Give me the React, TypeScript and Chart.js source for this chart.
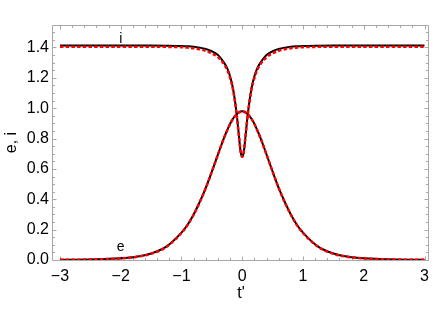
import React, { useEffect, useRef } from "react";
import { Chart, registerables } from "chart.js";

Chart.register(...registerables);

// t' sample positions
const tValues = [
  -3, -2.75, -2.5, -2.25, -2, -1.75, -1.5, -1.25, -1, -0.9, -0.8, -0.7, -0.6, -0.5, -0.4, -0.3, -0.25, -0.2, -0.15, -0.1,
  -0.075, -0.05, -0.025, 0, 0.025, 0.05, 0.075, 0.1, 0.15, 0.2, 0.25, 0.3, 0.4, 0.5, 0.6, 0.7, 0.8, 0.9, 1, 1.25, 1.5,
  1.75, 2, 2.25, 2.5, 2.75, 3,
];

// e (black, solid)
const eBlack = [
  0.001, 0.002, 0.004, 0.007, 0.011, 0.021, 0.043, 0.088, 0.18, 0.232, 0.3, 0.382, 0.475, 0.583, 0.695, 0.805, 0.853,
  0.897, 0.932, 0.958, 0.967, 0.974, 0.978, 0.98, 0.978, 0.974, 0.967, 0.958, 0.932, 0.897, 0.853, 0.805, 0.695, 0.583,
  0.475, 0.382, 0.3, 0.232, 0.18, 0.088, 0.043, 0.021, 0.011, 0.007, 0.004, 0.002, 0.001,
];

// e (red, dashed)
const eRed = [
  0.001, 0.002, 0.003, 0.006, 0.01, 0.02, 0.041, 0.086, 0.178, 0.23, 0.298, 0.38, 0.474, 0.582, 0.694, 0.804, 0.852,
  0.896, 0.931, 0.957, 0.966, 0.973, 0.977, 0.979, 0.977, 0.973, 0.966, 0.957, 0.931, 0.896, 0.852, 0.804, 0.694, 0.582,
  0.474, 0.38, 0.298, 0.23, 0.178, 0.086, 0.041, 0.02, 0.01, 0.006, 0.003, 0.002, 0.001,
];

// i (black, solid)
const iBlack = [
  1.413, 1.413, 1.413, 1.413, 1.413, 1.413, 1.413, 1.412, 1.41, 1.408, 1.405, 1.399, 1.39, 1.375, 1.35, 1.3, 1.265, 1.21,
  1.125, 0.99, 0.9, 0.8, 0.71, 0.68, 0.71, 0.8, 0.9, 0.99, 1.125, 1.21, 1.265, 1.3, 1.35, 1.375, 1.39, 1.399, 1.405,
  1.408, 1.41, 1.412, 1.413, 1.413, 1.413, 1.413, 1.413, 1.413, 1.413,
];

// i (red, dashed)
const iRed = [
  1.405, 1.405, 1.405, 1.405, 1.405, 1.405, 1.405, 1.404, 1.402, 1.399, 1.395, 1.388, 1.378, 1.362, 1.336, 1.29, 1.255,
  1.2, 1.118, 0.985, 0.898, 0.8, 0.71, 0.68, 0.71, 0.8, 0.898, 0.985, 1.118, 1.2, 1.255, 1.29, 1.336, 1.362, 1.378,
  1.388, 1.395, 1.399, 1.402, 1.404, 1.405, 1.405, 1.405, 1.405, 1.405, 1.405, 1.405,
];

const xTickValues = [-3, -2, -1, 0, 1, 2, 3];
const yTickValues = [0, 0.2, 0.4, 0.6, 0.8, 1.0, 1.2, 1.4];

// in-plot curve labels
const curveLabelTexts = ["i", "e"];
const curveLabelT = [-2, -2];
const curveLabelV = [1.43, 0.056];

const FONT = "'Liberation Sans', Arial, sans-serif";

const framePlugin = {
  id: "frameTicks",
  beforeDatasetsDraw(chart: any) {
    const { ctx, chartArea, scales } = chart;
    const { left, right, top, bottom } = chartArea;
    const xs = scales.x;
    const ys = scales.y;
    const L = Math.floor(left) + 0.5;
    const R = Math.floor(right) - 0.5;
    const T = Math.floor(top) + 0.5;
    const B = Math.floor(bottom) + 0.5;
    ctx.save();
    ctx.strokeStyle = "#a8a8a8";
    ctx.lineWidth = 1;
    ctx.beginPath();
    ctx.moveTo(L, T);
    ctx.lineTo(R, T);
    ctx.lineTo(R, B);
    ctx.lineTo(L, B);
    ctx.closePath();
    ctx.stroke();

    const majorLen = 4;
    const minorLen = 2.5;
    ctx.beginPath();
    for (let k = -16; k <= 16; k++) {
      const v = k * 0.2;
      if (v < xs.min || v > xs.max) continue;
      const isMajor = k % 5 === 0;
      const len = isMajor ? majorLen : minorLen;
      const px = Math.round(xs.getPixelForValue(v)) + 0.5;
      ctx.moveTo(px, B);
      ctx.lineTo(px, B - len);
      ctx.moveTo(px, T);
      ctx.lineTo(px, T + len);
    }
    for (let k = 0; k <= 31; k++) {
      const v = k * 0.05;
      if (v < ys.min || v > ys.max) continue;
      const isMajor = k % 4 === 0;
      const len = isMajor ? majorLen : minorLen;
      const py = Math.round(ys.getPixelForValue(v)) + 0.5;
      ctx.moveTo(L, py);
      ctx.lineTo(L + len, py);
      ctx.moveTo(R, py);
      ctx.lineTo(R - len, py);
    }
    ctx.stroke();
    ctx.restore();
  },
  afterDatasetsDraw(chart: any) {
    const { ctx, scales } = chart;
    ctx.save();
    ctx.fillStyle = "#000";
    ctx.font = `14px ${FONT}`;
    ctx.textAlign = "center";
    ctx.textBaseline = "alphabetic";
    curveLabelTexts.forEach((txt, idx) => {
      const px = scales.x.getPixelForValue(curveLabelT[idx]);
      const py = scales.y.getPixelForValue(curveLabelV[idx]);
      ctx.fillText(txt, px, py);
    });
    ctx.restore();
  },
};

export default function App() {
  const canvasRef = useRef<HTMLCanvasElement | null>(null);

  useEffect(() => {
    document.body.style.margin = "0";
    const canvas = canvasRef.current;
    if (!canvas) return;

    const mk = (vals: number[]) => tValues.map((t, idx) => ({ x: t, y: vals[idx] }));

    const chart = new Chart(canvas, {
      type: "line",
      data: {
        datasets: [
          {
            label: "i red",
            data: mk(iRed),
            borderColor: "#ff0000",
            borderWidth: 2.5,
            borderDash: [3.5, 2.2],
            pointRadius: 0,
            cubicInterpolationMode: "monotone",
            fill: false,
            order: 0,
          },
          {
            label: "e red",
            data: mk(eRed),
            borderColor: "#ff0000",
            borderWidth: 2.5,
            borderDash: [3.5, 2.2],
            pointRadius: 0,
            cubicInterpolationMode: "monotone",
            fill: false,
            order: 0,
          },
          {
            label: "i black",
            data: mk(iBlack),
            borderColor: "#000000",
            borderWidth: 2,
            pointRadius: 0,
            cubicInterpolationMode: "monotone",
            fill: false,
            order: 1,
          },
          {
            label: "e black",
            data: mk(eBlack),
            borderColor: "#000000",
            borderWidth: 2,
            pointRadius: 0,
            cubicInterpolationMode: "monotone",
            fill: false,
            order: 1,
          },
        ],
      },
      options: {
        responsive: false,
        animation: false,
        devicePixelRatio: 1,
        layout: { padding: { top: 25, right: 3, left: 0, bottom: 0 } },
        plugins: { legend: { display: false }, tooltip: { enabled: false } },
        scales: {
          x: {
            type: "linear",
            min: -3.131,
            max: 3.09,
            grid: { display: false, drawTicks: false },
            border: { display: false },
            afterBuildTicks: (scale: any) => {
              scale.ticks = xTickValues.map((v) => ({ value: v }));
            },
            afterFit: (scale: any) => {
              scale.height = 51;
            },
            ticks: {
              autoSkip: false,
              maxRotation: 0,
              padding: 7,
              color: "#000",
              font: { family: FONT, size: 16 },
              callback: (v: any) => (Number(v) < 0 ? "\u2212" + Math.abs(Number(v)) : String(v)),
            },
            title: {
              display: true,
              text: "t'",
              color: "#000",
              font: { family: FONT, size: 16 },
              padding: { top: 0, bottom: 7.5 },
            },
          },
          y: {
            type: "linear",
            min: 0,
            max: 1.548,
            grid: { display: false, drawTicks: false },
            border: { display: false },
            afterBuildTicks: (scale: any) => {
              scale.ticks = yTickValues.map((v) => ({ value: v }));
            },
            afterFit: (scale: any) => {
              scale.width = 52;
            },
            ticks: {
              autoSkip: false,
              padding: 3,
              color: "#000",
              font: { family: FONT, size: 16 },
              callback: (v: any) => Number(v).toFixed(1),
            },
            title: {
              display: true,
              text: "e, i",
              color: "#000",
              font: { family: FONT, size: 16 },
              padding: { top: 1.5, bottom: 0 },
            },
          },
        },
      },
      plugins: [framePlugin],
    } as any);

    return () => chart.destroy();
  }, []);

  return (
    <div style={{ width: 436, height: 311 }}>
      <canvas ref={canvasRef} width={436} height={311} style={{ display: "block", width: 436, height: 311 }} />
    </div>
  );
}
